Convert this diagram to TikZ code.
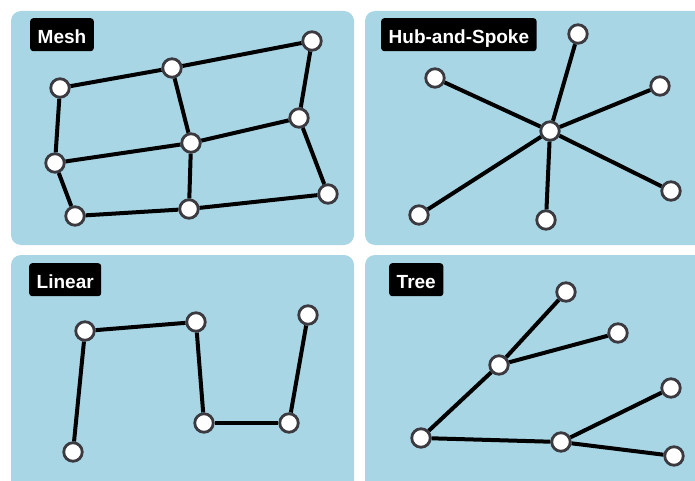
\documentclass[tikz,border=0pt]{standalone}
\usepackage{fontspec}
\setmainfont{Liberation Sans}
\usepackage{xcolor}
\usetikzlibrary{positioning}
\definecolor{panelblue}{RGB}{168,214,228}
\definecolor{ringgray}{RGB}{58,58,64}

\begin{document}
\begin{tikzpicture}[x=1pt, y=-1pt]
    \tikzset{panel/.style = {fill=panelblue, rounded corners=10pt}}
    \tikzset{tag/.style = {fill=black, text=white, font=\bfseries\fontsize{19}{19}\selectfont, rounded corners=3pt, anchor=north west, inner xsep=7.5pt, inner ysep=0pt, text height=25pt, text depth=8pt}}
    \tikzset{site/.style = {circle, draw=ringgray, fill=white, line width=2.8pt, minimum size=18.5pt, inner sep=0pt}}
    \tikzset{link/.style = {draw, line width=4pt}}

    \path[use as bounding box, clip] (0,0) rectangle (695,481);

    % Panels
    \fill[panel] (11,11) rectangle (354,245);
    \fill[panel] (365,11) rectangle (720,245);
    \fill[panel] (11,255) rectangle (354,510);
    \fill[panel] (365,255) rectangle (720,510);

    \node [tag] (meshtag) at (30,18) {Mesh};
    \node [tag] (hubtag) at (381,18) {Hub-and-Spoke};
    \node [tag] (lineartag) at (29,263) {Linear};
    \node [tag] (treetag) at (389,263) {Tree};

    % Mesh
    \node [site] (m11) at (60,88) {};
    \node [site] (m12) at (172,68) {};
    \node [site] (m13) at (312,41) {};
    \node [site] (m21) at (55,163) {};
    \node [site] (m22) at (191,143) {};
    \node [site] (m23) at (299,118) {};
    \node [site] (m31) at (75,216) {};
    \node [site] (m32) at (189,209) {};
    \node [site] (m33) at (328,194) {};

    \draw [link] (m11) -- (m12);
    \draw [link] (m12) -- (m13);
    \draw [link] (m21) -- (m22);
    \draw [link] (m22) -- (m23);
    \draw [link] (m31) -- (m32);
    \draw [link] (m32) -- (m33);
    \draw [link] (m11) -- (m21);
    \draw [link] (m21) -- (m31);
    \draw [link] (m12) -- (m22);
    \draw [link] (m22) -- (m32);
    \draw [link] (m13) -- (m23);
    \draw [link] (m23) -- (m33);

    % Hub-and-Spoke
    \node [site] (hub) at (550,131) {};
    \node [site] (spoke1) at (578,34) {};
    \node [site] (spoke2) at (660,86) {};
    \node [site] (spoke3) at (671,191) {};
    \node [site] (spoke4) at (546,220) {};
    \node [site] (spoke5) at (419,215) {};
    \node [site] (spoke6) at (435,78) {};

    \foreach \s in {1,...,6}
        \draw [link] (hub) -- (spoke\s);

    % Linear
    \node [site] (l1) at (73,452) {};
    \node [site] (l2) at (85,331) {};
    \node [site] (l3) at (196,322) {};
    \node [site] (l4) at (204,423) {};
    \node [site] (l5) at (289,423) {};
    \node [site] (l6) at (308,315) {};

    \draw [link] (l1) -- (l2);
    \draw [link] (l2) -- (l3);
    \draw [link] (l3) -- (l4);
    \draw [link] (l4) -- (l5);
    \draw [link] (l5) -- (l6);

    % Tree
    \node [site] (root) at (421,438) {};
    \node [site] (upper) at (499,365) {};
    \node [site] (lower) at (561,442) {};
    \node [site] (leaf1) at (566,292) {};
    \node [site] (leaf2) at (618,333) {};
    \node [site] (leaf3) at (671,388) {};
    \node [site] (leaf4) at (674,456) {};

    \draw [link] (root) -- (upper);
    \draw [link] (root) -- (lower);
    \draw [link] (upper) -- (leaf1);
    \draw [link] (upper) -- (leaf2);
    \draw [link] (lower) -- (leaf3);
    \draw [link] (lower) -- (leaf4);
\end{tikzpicture}
\end{document}
